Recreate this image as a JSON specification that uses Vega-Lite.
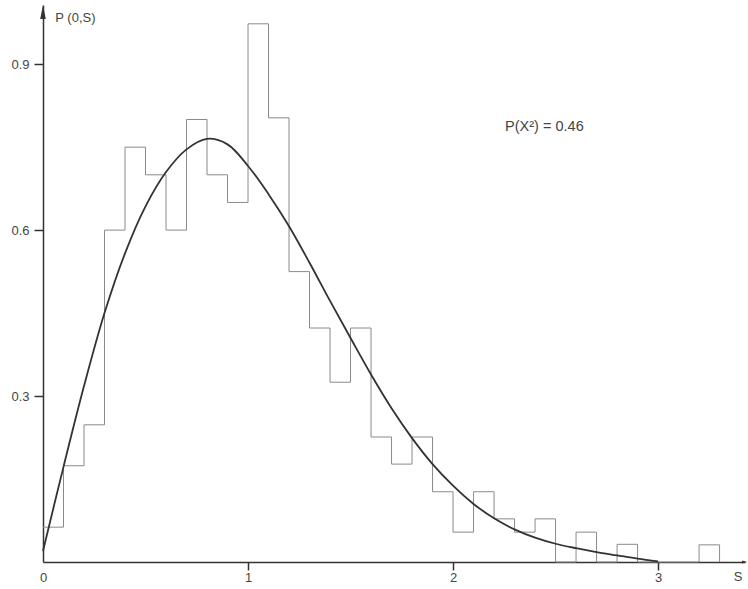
{
  "$schema": "https://vega.github.io/schema/vega-lite/v6.json",
  "width": 702,
  "height": 557,
  "autosize": {"type": "none"},
  "padding": {"left": 43, "top": 5, "right": 3, "bottom": 27},
  "background": "white",
  "config": {
    "view": {"stroke": null},
    "font": "Liberation Sans"
  },
  "datasets": {
    "hist": [
      {"s": 0.0, "p": 0.063}, {"s": 0.1, "p": 0.174}, {"s": 0.2, "p": 0.248},
      {"s": 0.3, "p": 0.6}, {"s": 0.4, "p": 0.75}, {"s": 0.5, "p": 0.7},
      {"s": 0.6, "p": 0.6}, {"s": 0.7, "p": 0.8}, {"s": 0.8, "p": 0.7},
      {"s": 0.9, "p": 0.65}, {"s": 1.0, "p": 0.973}, {"s": 1.1, "p": 0.803},
      {"s": 1.2, "p": 0.525}, {"s": 1.3, "p": 0.423}, {"s": 1.4, "p": 0.325},
      {"s": 1.5, "p": 0.423}, {"s": 1.6, "p": 0.226}, {"s": 1.7, "p": 0.177},
      {"s": 1.8, "p": 0.226}, {"s": 1.9, "p": 0.127}, {"s": 2.0, "p": 0.054},
      {"s": 2.1, "p": 0.127}, {"s": 2.2, "p": 0.078}, {"s": 2.3, "p": 0.054},
      {"s": 2.4, "p": 0.078}, {"s": 2.5, "p": 0.0}, {"s": 2.6, "p": 0.054},
      {"s": 2.7, "p": 0.0}, {"s": 2.8, "p": 0.032}, {"s": 2.9, "p": 0.0},
      {"s": 3.0, "p": 0.0}, {"s": 3.1, "p": 0.0}, {"s": 3.2, "p": 0.031},
      {"s": 3.3, "p": 0.0}
    ],
    "curve": [
      {"s": 0.0, "p": 0.02}, {"s": 0.1, "p": 0.172}, {"s": 0.2, "p": 0.318},
      {"s": 0.3, "p": 0.45}, {"s": 0.4, "p": 0.558}, {"s": 0.5, "p": 0.643},
      {"s": 0.6, "p": 0.705}, {"s": 0.7, "p": 0.746}, {"s": 0.8, "p": 0.765},
      {"s": 0.9, "p": 0.755}, {"s": 1.0, "p": 0.716}, {"s": 1.1, "p": 0.665},
      {"s": 1.2, "p": 0.607}, {"s": 1.3, "p": 0.541}, {"s": 1.4, "p": 0.472},
      {"s": 1.5, "p": 0.405}, {"s": 1.6, "p": 0.339}, {"s": 1.7, "p": 0.278},
      {"s": 1.8, "p": 0.224}, {"s": 1.9, "p": 0.177}, {"s": 2.0, "p": 0.138},
      {"s": 2.1, "p": 0.105}, {"s": 2.2, "p": 0.079}, {"s": 2.3, "p": 0.059},
      {"s": 2.4, "p": 0.044}, {"s": 2.5, "p": 0.033}, {"s": 2.6, "p": 0.025},
      {"s": 2.7, "p": 0.018}, {"s": 2.8, "p": 0.012}, {"s": 2.9, "p": 0.006},
      {"s": 3.0, "p": 0.001}
    ],
    "one": [{"k": 1}]
  },
  "layer": [
    {
      "data": {"name": "hist"},
      "mark": {"type": "line", "interpolate": "step-after", "color": "#8a8a8a", "strokeWidth": 1},
      "encoding": {
        "x": {
          "field": "s", "type": "quantitative",
          "scale": {"domain": [0, 3.424], "nice": false, "zero": false},
          "axis": {
            "values": [0, 1, 2, 3],
            "format": "d",
            "grid": false,
            "title": null,
            "domainColor": "#333",
            "domainWidth": 1.5,
            "tickColor": "#333",
            "tickWidth": 1.5,
            "labelColor": "#444",
            "labelFont": "Liberation Sans",
            "labelFontSize": 13,
            "tickSize": 8,
            "labelPadding": 1,
            "labelFlush": false,
            "tickOpacity": {"condition": {"test": "datum.value == 0", "value": 0}, "value": 1}
          }
        },
        "y": {
          "field": "p", "type": "quantitative",
          "scale": {"domain": [0, 1.007], "nice": false},
          "axis": {
            "values": [0.3, 0.6, 0.9],
            "format": ".1f",
            "grid": false,
            "title": null,
            "domainColor": "#333",
            "domainWidth": 1.5,
            "tickColor": "#333",
            "tickWidth": 1.5,
            "labelColor": "#444",
            "labelFont": "Liberation Sans",
            "labelFontSize": 13,
            "tickSize": 9,
            "labelPadding": 5
          }
        }
      }
    },
    {
      "data": {"name": "curve"},
      "mark": {"type": "line", "interpolate": "catmull-rom", "color": "#333", "strokeWidth": 1.8},
      "encoding": {
        "x": {"field": "s", "type": "quantitative"},
        "y": {"field": "p", "type": "quantitative"}
      }
    },
    {
      "data": {"name": "one"},
      "mark": {"type": "point", "shape": "M0,0L0.4,2L-0.4,2Z", "filled": true, "color": "#333", "size": 196, "opacity": 1},
      "encoding": {
        "x": {"datum": 0},
        "y": {"datum": 1.007}
      }
    },
    {
      "data": {"name": "one"},
      "mark": {"type": "point", "shape": "M0,0L-2,-0.6L-2,0.6Z", "filled": true, "color": "#333", "size": 25, "opacity": 1},
      "encoding": {
        "x": {"datum": 3.434},
        "y": {"datum": 0}
      }
    },
    {
      "data": {"name": "one"},
      "mark": {"type": "text", "align": "left", "baseline": "middle", "fontSize": 13, "color": "#444", "font": "Liberation Sans"},
      "encoding": {
        "x": {"datum": 0.06},
        "y": {"datum": 0.983},
        "text": {"value": "P (0,S)"}
      }
    },
    {
      "data": {"name": "one"},
      "mark": {"type": "text", "align": "center", "baseline": "middle", "fontSize": 13, "color": "#444", "font": "Liberation Sans"},
      "encoding": {
        "x": {"datum": 3.39},
        "y": {"datum": -0.028},
        "text": {"value": "S"}
      }
    },
    {
      "data": {"name": "one"},
      "mark": {"type": "text", "align": "left", "baseline": "middle", "fontSize": 14.5, "color": "#444", "font": "Liberation Sans"},
      "encoding": {
        "x": {"datum": 2.254},
        "y": {"datum": 0.787},
        "text": {"value": "P(X²) = 0.46"}
      }
    }
  ]
}
